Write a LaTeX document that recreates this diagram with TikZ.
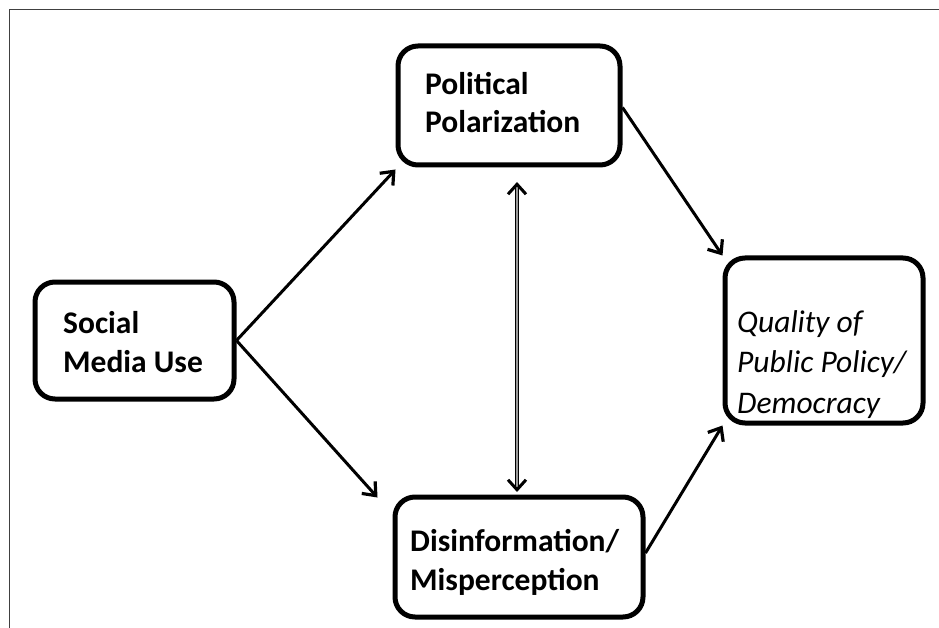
\documentclass[tikz,border=0pt]{standalone}
\usepackage{fontspec}
\setmainfont{Carlito}
\usetikzlibrary{arrows.meta}
\tikzset{
  box/.style={draw, line width=5pt, rounded corners=20pt, inner sep=0pt},
  lbl/.style={anchor=base west, align=left, inner sep=0pt, font=\bfseries\fontsize{31.5}{38.5}\selectfont},
  conn/.style={line width=3pt, -{Straight Barb[length=11pt,width=18pt,line width=3.2pt]}},
  shaft/.style={line width=1.3pt, double=black!40, double distance=2.2pt},
  head/.style={line width=1.5pt, -{Straight Barb[length=10pt,width=18pt,line width=3pt]}}
}
\begin{document}
\begin{tikzpicture}[x=1pt,y=-1pt]
\useasboundingbox (0,0) rectangle (939,628);
\draw[line width=1.4pt, black!75] (9.5,628) -- (9.5,9.5) -- (939,9.5);

\node[box, minimum width=199pt, minimum height=117pt] (smu) at (134.5,340.5) {};
\node[box, minimum width=222pt, minimum height=119pt] (pol) at (509,105.5) {};
\node[box, minimum width=248pt, minimum height=120pt] (dis) at (519,557) {};
\node[box, minimum width=198pt, minimum height=165pt] (q) at (824,340.5) {};

\node[lbl] (smut) at (63,372) {Social\\Media Use};
\node[lbl] (polt) at (425,133) {Political\\Polarization};
\node[lbl] (dist) at (410,590) {Disinformation/\\Misperception};
\node[lbl, font=\itshape\fontsize{31.5}{40.5}\selectfont] (qt) at (737,413) {Quality of\\Public Policy/\\Democracy};

\coordinate (dt) at (517,182);
\coordinate (db) at (517,492);

\draw[conn] (smu.east) -- ([yshift=-2pt]pol.south west);
\draw[conn] (smu.east) -- ([xshift=-15pt,yshift=-3pt]dis.north west);
\draw[conn] ([yshift=-2pt]pol.east) -- (q.north west);
\draw[conn] ([yshift=4pt]dis.east) -- (q.south west);
\draw[shaft] ([yshift=-2pt]dt) -- ([yshift=2pt]db);
\draw[head] ([yshift=-4pt]dt) -- (dt);
\draw[head] ([yshift=4pt]db) -- (db);
\end{tikzpicture}
\end{document}
